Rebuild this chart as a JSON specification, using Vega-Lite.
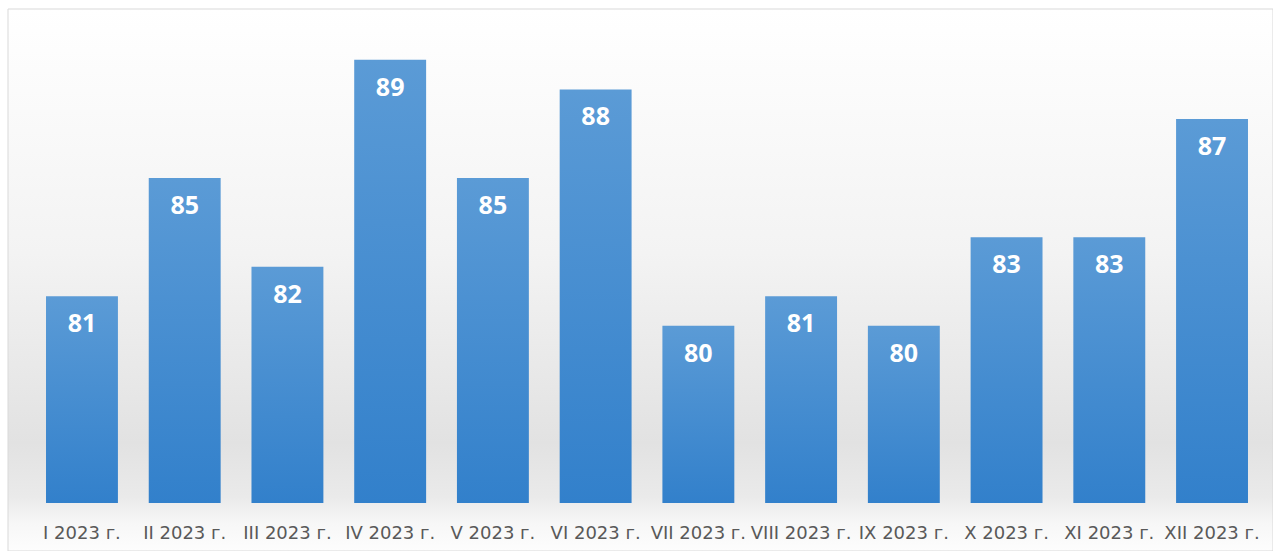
{
  "$schema": "https://vega.github.io/schema/vega-lite/v6.json",
  "autosize": {"type": "none"},
  "width": 1265,
  "height": 542,
  "padding": {"left": 8, "top": 9, "right": 0, "bottom": 0},
  "background": "#ffffff",
  "config": {"view": {"stroke": null}},
  "data": {"values": [
    {"month": "I 2023 г.", "value": 81},
    {"month": "II 2023 г.", "value": 85},
    {"month": "III 2023 г.", "value": 82},
    {"month": "IV 2023 г.", "value": 89},
    {"month": "V 2023 г.", "value": 85},
    {"month": "VI 2023 г.", "value": 88},
    {"month": "VII 2023 г.", "value": 80},
    {"month": "VIII 2023 г.", "value": 81},
    {"month": "IX 2023 г.", "value": 80},
    {"month": "X 2023 г.", "value": 83},
    {"month": "XI 2023 г.", "value": 83},
    {"month": "XII 2023 г.", "value": 87}
  ]},
  "layer": [
    {
      "data": {"values": [{}]},
      "mark": {
        "type": "rect",
        "stroke": "#d9d9d9",
        "strokeWidth": 1,
        "fill": {
          "gradient": "linear", "x1": 0, "y1": 0, "x2": 0, "y2": 1,
          "stops": [
            {"offset": 0, "color": "#ffffff"},
            {"offset": 0.45, "color": "#f3f3f3"},
            {"offset": 0.8, "color": "#e2e2e2"},
            {"offset": 0.9, "color": "#eaeaea"},
            {"offset": 0.95, "color": "#f7f7f7"},
            {"offset": 1, "color": "#fdfdfd"}
          ]
        }
      },
      "encoding": {}
    },
    {
      "mark": {
        "type": "bar",
        "fill": {
          "gradient": "linear", "x1": 0, "y1": 0, "x2": 0, "y2": 1,
          "stops": [
            {"offset": 0, "color": "#5b9bd6"},
            {"offset": 1, "color": "#3280cb"}
          ]
        }
      },
      "encoding": {
        "x": {"field": "month", "type": "nominal", "sort": null,
              "scale": {"range": [22.6, 1255.4], "paddingInner": 0.3, "paddingOuter": 0.15}, "axis": null},
        "y": {"field": "value", "type": "quantitative",
              "scale": {"domain": [72.38, 90.72], "zero": false, "nice": false}, "axis": null},
        "y2": {"datum": 74}
      }
    },
    {
      "mark": {"type": "text", "color": "#ffffff", "font": "Open Sans", "fontWeight": "bold", "fontSize": 25, "baseline": "middle", "dy": 28},
      "encoding": {
        "x": {"field": "month", "type": "nominal", "sort": null},
        "y": {"field": "value", "type": "quantitative"},
        "text": {"field": "value", "type": "quantitative"}
      }
    },
    {
      "mark": {"type": "text", "color": "#595959", "font": "DejaVu Sans", "fontSize": 18, "baseline": "middle", "dy": 31},
      "encoding": {
        "x": {"field": "month", "type": "nominal", "sort": null},
        "y": {"datum": 74},
        "text": {"field": "month", "type": "nominal"}
      }
    }
  ]
}
